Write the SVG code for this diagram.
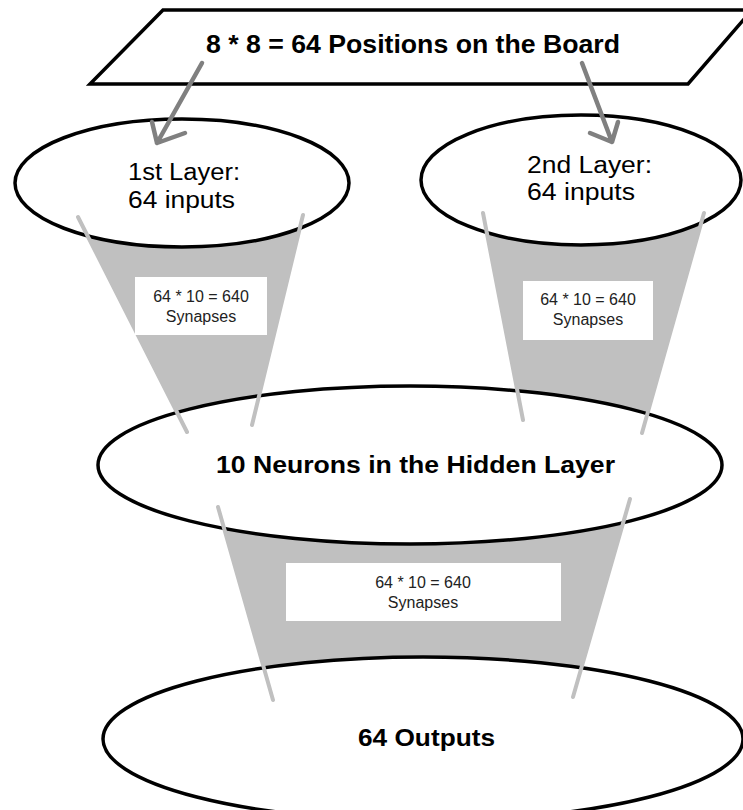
<svg xmlns="http://www.w3.org/2000/svg" width="743" height="810" viewBox="0 0 743 810">
<defs>
<style>
.fill{fill:#c0c0c0;stroke:none}
.edge{stroke:#c0c0c0;stroke-width:4;stroke-linecap:round;fill:none}
.arrow{stroke:#808080;stroke-width:4.5;stroke-linecap:round;stroke-linejoin:round;fill:none}
.node{fill:#fff;stroke:#000;stroke-width:3.5}
.box{fill:#fff;stroke:none}
.bold{font-family:"Liberation Sans",Arial,sans-serif;font-weight:bold;fill:#000}
.reg{font-family:"Liberation Sans",Arial,sans-serif;fill:#000}
.syn{font-family:"Liberation Sans",Arial,sans-serif;font-size:16px;fill:#222;text-anchor:middle}
</style>
</defs>
<rect width="743" height="810" fill="#fff"/>
<g id="connector-fills">
<polygon class="fill" points="78,217 303,215 252,425 187,432"/>
<polygon class="fill" points="483,213 704,213 642,433 523,420"/>
<polygon class="fill" points="218,507 630,499 573,697 273,700"/>
</g>
<g id="board">
<polygon class="node" stroke-width="4" points="163,10 752,10 688,84 90,84"/>
<text class="bold" x="206" y="53" font-size="25" textLength="414" lengthAdjust="spacingAndGlyphs">8 * 8 = 64 Positions on the Board</text>
</g>
<g id="layer1">
<ellipse class="node" cx="182" cy="183" rx="167" ry="64"/>
<text class="reg" x="128" y="180" font-size="23" textLength="112" lengthAdjust="spacingAndGlyphs">1st Layer:</text>
<text class="reg" x="128" y="208" font-size="23" textLength="107" lengthAdjust="spacingAndGlyphs">64 inputs</text>
</g>
<g id="layer2">
<ellipse class="node" cx="581" cy="180" rx="160" ry="65"/>
<text class="reg" x="527" y="173" font-size="23" textLength="125" lengthAdjust="spacingAndGlyphs">2nd Layer:</text>
<text class="reg" x="527" y="200" font-size="23" textLength="108" lengthAdjust="spacingAndGlyphs">64 inputs</text>
</g>
<g id="hidden">
<ellipse class="node" cx="410" cy="465" rx="312" ry="79"/>
<text class="bold" x="216" y="473" font-size="23" textLength="399" lengthAdjust="spacingAndGlyphs">10 Neurons in the Hidden Layer</text>
</g>
<g id="outputs">
<ellipse class="node" cx="423" cy="739" rx="320" ry="82"/>
<text class="bold" x="358" y="746" font-size="23" textLength="137" lengthAdjust="spacingAndGlyphs">64 Outputs</text>
</g>
<g id="connectors">
<line class="edge" x1="78" y1="217" x2="187" y2="432"/>
<line class="edge" x1="303" y1="215" x2="252" y2="425"/>
<line class="edge" x1="483" y1="213" x2="523" y2="420"/>
<line class="edge" x1="704" y1="213" x2="642" y2="433"/>
<line class="edge" x1="218" y1="507" x2="273" y2="700"/>
<line class="edge" x1="630" y1="499" x2="573" y2="697"/>
<path class="arrow" d="M202,63 L157,143 M152,122 L157,143 L185,133"/>
<path class="arrow" d="M582,63 L612,142 M590,133 L612,142 L618,122"/>
</g>
<g id="synapse-labels">
<rect class="box" x="135" y="277" width="132" height="58"/>
<text class="syn" x="201" y="302">64 * 10 = 640</text>
<text class="syn" x="201" y="322">Synapses</text>
<rect class="box" x="523" y="281" width="130" height="59"/>
<text class="syn" x="588" y="305">64 * 10 = 640</text>
<text class="syn" x="588" y="325">Synapses</text>
<rect class="box" x="286" y="563" width="275" height="58"/>
<text class="syn" x="423" y="588">64 * 10 = 640</text>
<text class="syn" x="423" y="608">Synapses</text>
</g>
</svg>
